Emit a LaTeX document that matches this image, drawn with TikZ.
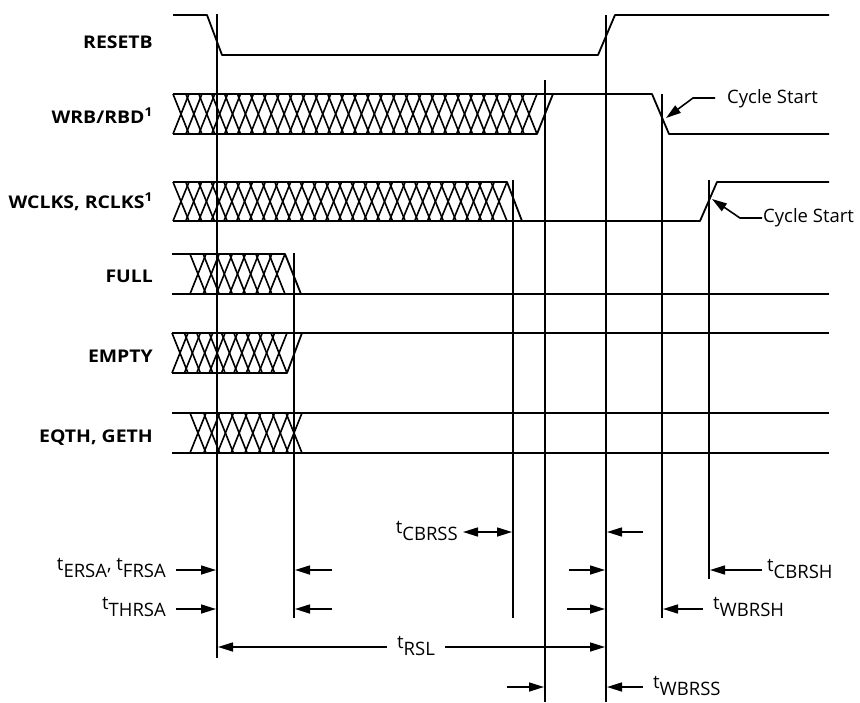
\documentclass[tikz,border=0pt]{standalone}
\usepackage{fontspec}
\setmainfont{Open Sans}
\newfontfamily\sigfont[FakeStretch=1.11]{Open Sans}
\usetikzlibrary{arrows.meta}
\newcommand{\tsub}[1]{t\raisebox{-7.5pt}{#1}}
\newcommand{\xbus}[5]{% first start, last start, count, top, bottom
  \pgfmathsetmacro\xbstep{(#2-#1)/#3}
  \foreach \k in {0,...,#3}{
    \draw[xline] (#1+\k*\xbstep, #4) -- (#1+\k*\xbstep+16, #5);
    \draw[xline] (#1+\k*\xbstep, #5) -- (#1+\k*\xbstep+16, #4);
  }}
\begin{document}
\begin{tikzpicture}[x=1pt, y=-1pt,
  sig/.style={line width=1.8pt, line join=round},
  xline/.style={line width=1.6pt},
  edge/.style={line width=1.6pt},
  tarrow/.style={line width=1.6pt, -{Triangle[length=15pt,width=9pt]}},
  tboth/.style={line width=1.6pt, {Triangle[length=15pt,width=9pt]}-{Triangle[length=15pt,width=9pt]}},
  signame/.style={font=\sigfont\fontsize{17.5}{20}\selectfont\bfseries, inner sep=0pt, anchor=base east},
  tlab/.style={font=\fontsize{18.5}{20}\selectfont, inner sep=0pt}]
\useasboundingbox (0,0) rectangle (860,702);

\node[signame] (resetb) at (153,48) {RESETB};
\node[signame] (wrb) at (153,123) {WRB/RBD\textsuperscript{1}};
\node[signame] (wclks) at (153,208) {WCLKS, RCLKS\textsuperscript{1}};
\node[signame] (full) at (153,282) {FULL};
\node[signame] (empty) at (153,362) {EMPTY};
\node[signame] (eqth) at (153,442) {EQTH, GETH};

\draw[sig] (173,15) -- (207,15) -- (222,55) -- (598,55) -- (615,15) -- (829,15) ; % RESETB

\draw[sig] (173,94) -- (652,94) -- (669,134) -- (829,134) ; % WRB/RBD
\draw[sig] (173,134) -- (537,134) -- (553,94) ;
\xbus{173}{521}{27}{94}{134}

\draw[sig] (173,182) -- (507,182) -- (522,221) -- (700,221) -- (717,182) -- (829,182) ; % WCLKS
\draw[sig] (173,221) -- (522,221) ;
\xbus{173}{491}{25}{182}{221}

\draw[sig] (172,254) -- (285,254) -- (301,294) ; % FULL
\draw[sig] (172,294) -- (829,294) ;
\xbus{190}{269}{6}{254}{294}

\draw[sig] (172,333) -- (829,333) ; % EMPTY
\draw[sig] (172,373) -- (287,373) -- (302,333) ;
\xbus{172}{271}{8}{333}{373}

\draw[sig] (172,413) -- (829,413) ; % EQTH, GETH
\draw[sig] (172,453) -- (829,453) ;
\xbus{190}{286}{7}{413}{453}

\draw[edge] (217,14) -- (217,658) ;
\draw[edge] (294,253) -- (294,618) ;
\draw[edge] (513,180) -- (513,618) ;
\draw[edge] (545,80) -- (545,702) ;
\draw[edge] (606,15) -- (606,702) ;
\draw[edge] (662,94) -- (662,618) ;
\draw[edge] (709,180) -- (709,579) ;

\node[tlab, anchor=base west] (cyc1) at (727,103) {Cycle Start};
\draw[tarrow] (715,98) -- (693,98) -- (666,118) ; % cyc1
\node[tlab, anchor=base west] (cyc2) at (763,222) {Cycle Start};
\draw[tarrow] (762,218) -- (740,218) -- (712,199) ; % cyc2

\node[tlab, anchor=base east] (cbrss) at (458,533) {\tsub{CBRSS}};
\draw[tboth] (463,532) -- (512,532) ; % cbrss
\draw[tarrow] (643,532) -- (607,532) ;

\node[tlab, anchor=base east] (ersa) at (166,570) {\tsub{ERSA}, \tsub{FRSA}};
\draw[tarrow] (176,570) -- (216,570) ; % ersa
\draw[tarrow] (332,570) -- (295,570) ;
\draw[tarrow] (569,570) -- (605,570) ;
\node[tlab, anchor=base west] (cbrsh) at (767,571) {\tsub{CBRSH}};
\draw[tarrow] (762,570) -- (710,570) ; % cbrsh

\node[tlab, anchor=base east] (thrsa) at (166,609) {\tsub{THRSA}};
\draw[tarrow] (176,609) -- (216,609) ; % thrsa
\draw[tarrow] (332,609) -- (295,609) ;
\draw[tarrow] (567,609) -- (605,609) ;
\node[tlab, anchor=base west] (wbrsh) at (713,609) {\tsub{WBRSH}};
\draw[tarrow] (703,609) -- (663,609) ; % wbrsh

\node[tlab, anchor=base west] (rsl) at (397,648) {\tsub{RSL}};
\draw[tarrow] (387,647) -- (218,647) ; % rsl
\draw[tarrow] (445,647) -- (605,647) ;

\draw[tarrow] (507,687) -- (544,687) ; % wbrss
\draw[tarrow] (643,687) -- (607,687) ;
\node[tlab, anchor=base west] (wbrss) at (653,688) {\tsub{WBRSS}};
\end{tikzpicture}
\end{document}
